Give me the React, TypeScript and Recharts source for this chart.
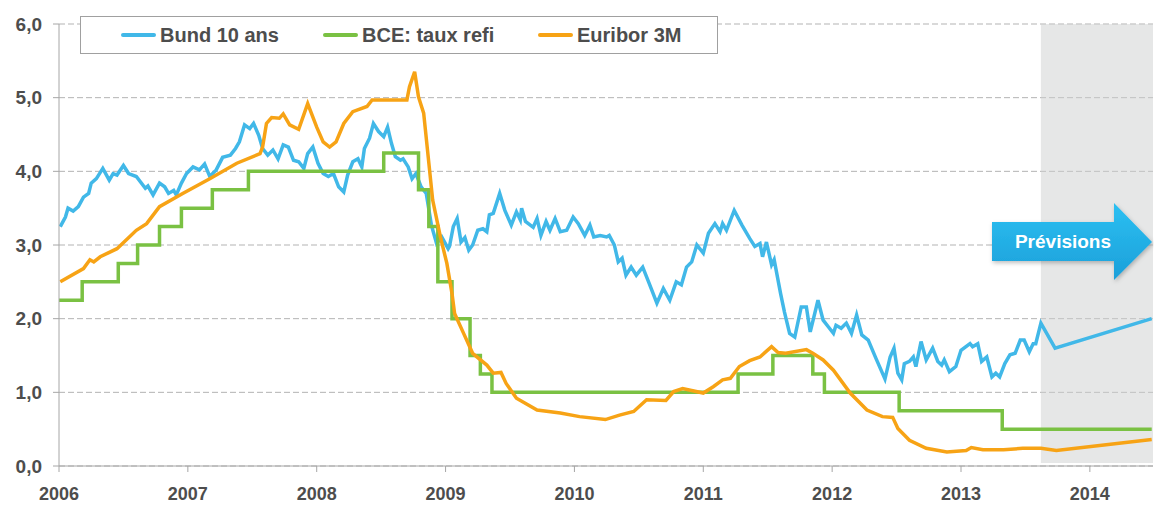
import React from "react";
import { LineChart, Line, XAxis, YAxis, CartesianGrid, ReferenceArea } from "recharts";

// [decimal year, value %]
const bund: [number, number][] = [
  [2006.01, 3.25], [2006.05, 3.38], [2006.07, 3.5], [2006.11, 3.46], [2006.15, 3.52], [2006.19, 3.65],
  [2006.23, 3.7], [2006.25, 3.84], [2006.29, 3.9], [2006.34, 4.04], [2006.39, 3.88], [2006.42, 3.97],
  [2006.45, 3.95], [2006.5, 4.08], [2006.54, 3.97], [2006.6, 3.93], [2006.67, 3.77], [2006.69, 3.8],
  [2006.73, 3.68], [2006.78, 3.84], [2006.82, 3.79], [2006.85, 3.7], [2006.89, 3.74], [2006.91, 3.68],
  [2006.95, 3.84], [2006.99, 3.97], [2007.04, 4.06], [2007.09, 4.02], [2007.13, 4.1], [2007.17, 3.93],
  [2007.22, 4.02], [2007.27, 4.19], [2007.33, 4.22], [2007.37, 4.31], [2007.4, 4.4], [2007.44, 4.63],
  [2007.48, 4.58], [2007.51, 4.65], [2007.55, 4.49], [2007.58, 4.31], [2007.62, 4.22], [2007.66, 4.29],
  [2007.7, 4.17], [2007.74, 4.36], [2007.78, 4.33], [2007.82, 4.15], [2007.86, 4.13], [2007.9, 4.04],
  [2007.93, 4.24], [2007.97, 4.33], [2008.01, 4.11], [2008.05, 3.97], [2008.09, 3.93], [2008.13, 3.97],
  [2008.17, 3.79], [2008.21, 3.72], [2008.24, 3.95], [2008.28, 4.13], [2008.32, 4.17], [2008.35, 4.06],
  [2008.37, 4.31], [2008.41, 4.45], [2008.44, 4.65], [2008.48, 4.54], [2008.52, 4.47], [2008.55, 4.6],
  [2008.58, 4.38], [2008.61, 4.2], [2008.65, 4.15], [2008.67, 4.17], [2008.71, 4.06], [2008.74, 3.9],
  [2008.77, 3.97], [2008.81, 3.79], [2008.85, 3.7], [2008.89, 3.27], [2008.93, 3.02], [2008.97, 3.11],
  [2009.02, 2.95], [2009.03, 2.98], [2009.06, 3.25], [2009.09, 3.36], [2009.12, 3.04], [2009.15, 3.1],
  [2009.18, 2.93], [2009.21, 3.0], [2009.25, 3.2], [2009.29, 3.22], [2009.32, 3.18], [2009.34, 3.41],
  [2009.37, 3.43], [2009.42, 3.7], [2009.46, 3.47], [2009.51, 3.27], [2009.55, 3.45], [2009.58, 3.34],
  [2009.59, 3.5], [2009.62, 3.32], [2009.68, 3.24], [2009.71, 3.36], [2009.74, 3.13], [2009.78, 3.32],
  [2009.81, 3.2], [2009.85, 3.36], [2009.89, 3.18], [2009.94, 3.2], [2009.99, 3.38], [2010.03, 3.29],
  [2010.08, 3.13], [2010.12, 3.27], [2010.15, 3.11], [2010.2, 3.13], [2010.25, 3.11], [2010.27, 3.13],
  [2010.31, 3.0], [2010.34, 2.77], [2010.37, 2.82], [2010.4, 2.59], [2010.44, 2.7], [2010.48, 2.59],
  [2010.53, 2.7], [2010.58, 2.48], [2010.64, 2.21], [2010.69, 2.41], [2010.74, 2.25], [2010.79, 2.5],
  [2010.83, 2.46], [2010.87, 2.7], [2010.91, 2.77], [2010.95, 3.0], [2011.0, 2.89], [2011.04, 3.16],
  [2011.09, 3.29], [2011.13, 3.18], [2011.15, 3.29], [2011.18, 3.2], [2011.24, 3.47], [2011.3, 3.27],
  [2011.36, 3.09], [2011.4, 2.98], [2011.44, 3.02], [2011.46, 2.84], [2011.49, 3.04], [2011.53, 2.73],
  [2011.55, 2.8], [2011.6, 2.34], [2011.63, 2.09], [2011.67, 1.8], [2011.71, 1.75], [2011.76, 2.16],
  [2011.8, 2.16], [2011.83, 1.82], [2011.89, 2.25], [2011.93, 1.98], [2011.97, 1.89], [2012.01, 1.8],
  [2012.03, 1.91], [2012.07, 1.87], [2012.11, 1.94], [2012.15, 1.8], [2012.19, 2.05], [2012.23, 1.78],
  [2012.28, 1.71], [2012.34, 1.46], [2012.41, 1.18], [2012.45, 1.48], [2012.48, 1.6], [2012.51, 1.26],
  [2012.54, 1.17], [2012.56, 1.39], [2012.6, 1.42], [2012.63, 1.48], [2012.65, 1.35], [2012.69, 1.69],
  [2012.73, 1.44], [2012.78, 1.6], [2012.82, 1.42], [2012.85, 1.37], [2012.87, 1.44], [2012.91, 1.28],
  [2012.96, 1.35], [2013.0, 1.57], [2013.07, 1.66], [2013.09, 1.62], [2013.13, 1.66], [2013.16, 1.42],
  [2013.2, 1.48], [2013.24, 1.21], [2013.27, 1.26], [2013.3, 1.21], [2013.34, 1.39], [2013.38, 1.51],
  [2013.42, 1.53], [2013.46, 1.71], [2013.49, 1.71], [2013.53, 1.55], [2013.56, 1.66], [2013.58, 1.66],
  [2013.62, 1.94], [2013.73, 1.6], [2014.48, 2.0],
];

const bce: [number, number][] = [
  [2006.0, 2.25], [2006.18, 2.5], [2006.46, 2.75], [2006.61, 3.0], [2006.78, 3.25], [2006.95, 3.5],
  [2007.19, 3.75], [2007.47, 4.0], [2008.52, 4.25], [2008.79, 3.75], [2008.87, 3.25], [2008.94, 2.5],
  [2009.05, 2.0], [2009.19, 1.5], [2009.27, 1.25], [2009.36, 1.0], [2011.27, 1.25], [2011.54, 1.5],
  [2011.85, 1.25], [2011.94, 1.0], [2012.52, 0.75], [2013.32, 0.5], [2014.48, 0.5],
];

const euribor: [number, number][] = [
  [2006.01, 2.5], [2006.19, 2.68], [2006.24, 2.8], [2006.27, 2.77], [2006.32, 2.84], [2006.45, 2.95],
  [2006.6, 3.2], [2006.68, 3.29], [2006.78, 3.52], [2006.96, 3.7], [2007.17, 3.9], [2007.38, 4.11],
  [2007.56, 4.24], [2007.58, 4.33], [2007.61, 4.65], [2007.65, 4.73], [2007.71, 4.72], [2007.74, 4.78],
  [2007.79, 4.63], [2007.86, 4.57], [2007.93, 4.92], [2008.0, 4.6], [2008.05, 4.4], [2008.1, 4.33],
  [2008.15, 4.4], [2008.21, 4.65], [2008.28, 4.81], [2008.39, 4.88], [2008.43, 4.97], [2008.7, 4.97],
  [2008.72, 5.15], [2008.76, 5.35], [2008.79, 5.01], [2008.83, 4.79], [2008.9, 3.61], [2008.96, 3.11],
  [2009.01, 2.75], [2009.05, 2.34], [2009.07, 2.07], [2009.14, 1.8], [2009.21, 1.53], [2009.32, 1.37],
  [2009.37, 1.26], [2009.43, 1.27], [2009.47, 1.12], [2009.55, 0.92], [2009.71, 0.76], [2009.89, 0.72],
  [2010.04, 0.67], [2010.24, 0.63], [2010.35, 0.69], [2010.46, 0.74], [2010.56, 0.9], [2010.71, 0.89],
  [2010.77, 1.01], [2010.84, 1.05], [2011.0, 0.99], [2011.08, 1.08], [2011.15, 1.17], [2011.21, 1.19],
  [2011.28, 1.35], [2011.36, 1.43], [2011.44, 1.48], [2011.53, 1.62], [2011.58, 1.54], [2011.64, 1.53],
  [2011.8, 1.58], [2011.85, 1.53], [2011.93, 1.44], [2012.01, 1.3], [2012.14, 0.99], [2012.27, 0.76],
  [2012.39, 0.67], [2012.47, 0.66], [2012.51, 0.51], [2012.6, 0.35], [2012.73, 0.24], [2012.89, 0.19],
  [2013.04, 0.21], [2013.08, 0.25], [2013.17, 0.22], [2013.33, 0.22], [2013.48, 0.24], [2013.62, 0.24],
  [2013.74, 0.21], [2014.48, 0.36],
];

const yearTicks = [2006, 2007, 2008, 2009, 2010, 2011, 2012, 2013, 2014];
const valueTicks = [0, 1, 2, 3, 4, 5, 6];
const forecastStart = 2013.62;
const xEnd = 2014.49;

const series = [
  { name: "Bund 10 ans", color: "#41b8e8", data: bund, type: "linear" },
  { name: "BCE: taux refi", color: "#7ac143", data: bce, type: "stepAfter" },
  { name: "Euribor 3M", color: "#f7a315", data: euribor, type: "linear" },
];

const FONT = "'Liberation Sans', Arial, sans-serif";
const TEXT = "#4d4d4d";

const toRows = (d: [number, number][]) => d.map(([t, v]) => ({ t, v }));

export default function App() {
  return (
    <div style={{ position: "relative", width: 1154, height: 516, fontFamily: FONT }}>
      <LineChart width={1154} height={516} margin={{ top: 16, right: 9, bottom: 0, left: 0 }}>
        <CartesianGrid vertical={false} stroke="#b3b3b3" strokeDasharray="6 3" />
        <ReferenceArea
          x1={forecastStart}
          x2={xEnd}
          y1={0.04}
          y2={6}
          fill="#cdcfcf"
          fillOpacity={0.5}
          stroke="none"
          ifOverflow="hidden"
        />
        <XAxis
          type="number"
          dataKey="t"
          domain={[2006, xEnd]}
          ticks={yearTicks}
          allowDataOverflow
          height={58}
          tickSize={6}
          tickMargin={15}
          stroke="#a6a6a6"
          tick={{ fill: TEXT, fontSize: 18, fontWeight: 700, fontFamily: FONT }}
          tickFormatter={(v: number) => String(v)}
        />
        <YAxis
          type="number"
          domain={[0, 6]}
          ticks={valueTicks}
          width={51}
          tickSize={6}
          tickMargin={11}
          stroke="#a6a6a6"
          tick={{ fill: TEXT, fontSize: 19, fontWeight: 700, fontFamily: FONT }}
          tickFormatter={(v: number) => v.toFixed(1).replace(".", ",")}
        />
        {series.map((s) => (
          <Line
            key={s.name}
            data={toRows(s.data)}
            dataKey="v"
            name={s.name}
            type={s.type as any}
            stroke={s.color}
            strokeWidth={3.5}
            dot={false}
            activeDot={false}
            isAnimationActive={false}
          />
        ))}
      </LineChart>

      {/* Legend */}
      <div
        style={{
          position: "absolute",
          left: 72,
          top: 8,
          width: 636,
          height: 36,
          border: "1.5px solid #a0a0a0",
          background: "#fff",
          boxSizing: "content-box",
        }}
      >
        {series.map((s, i) => (
          <div
            key={s.name}
            style={{
              position: "absolute",
              left: [40, 242, 457][i],
              top: 0,
              height: 36,
              display: "flex",
              alignItems: "center",
              whiteSpace: "nowrap",
            }}
          >
            <span style={{ display: "inline-block", width: 35, height: 4, background: s.color, borderRadius: 2 }} />
            <span style={{ marginLeft: 4, fontSize: 20, fontWeight: 700, color: TEXT }}>{s.name}</span>
          </div>
        ))}
      </div>

      {/* Prévisions arrow */}
      <svg style={{ position: "absolute", left: 0, top: 0, pointerEvents: "none" }} width={1154} height={516}>
        <defs>
          <linearGradient id="arrowGrad" x1="0" y1="0" x2="0" y2="1">
            <stop offset="0" stopColor="#2cc0f2" />
            <stop offset="1" stopColor="#1b9fd9" />
          </linearGradient>
          <filter id="arrowShadow" x="-10%" y="-10%" width="130%" height="140%">
            <feDropShadow dx="1" dy="2" stdDeviation="2" floodColor="#000" floodOpacity="0.25" />
          </filter>
        </defs>
        <path
          d="M984 214 L1106 214 L1106 195 L1144 234 L1106 272 L1106 253 L984 253 Z"
          fill="url(#arrowGrad)"
          filter="url(#arrowShadow)"
        />
        <text
          x={1055}
          y={235}
          textAnchor="middle"
          dominantBaseline="middle"
          fill="#ffffff"
          fontSize={19}
          fontWeight={700}
          fontFamily={FONT}
        >
          Prévisions
        </text>
      </svg>
    </div>
  );
}
